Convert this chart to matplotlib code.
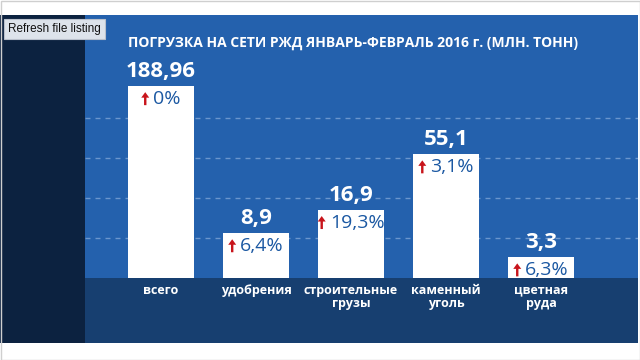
import numpy as np
import matplotlib.pyplot as plt
from matplotlib.patches import Rectangle, Polygon
from matplotlib.transforms import IdentityTransform

plt.rcParams['font.family'] = ['Open Sans', 'DejaVu Sans']

# данные
categories = ['всего', 'удобрения', 'строительные\nгрузы', 'каменный\nуголь', 'цветная\nруда']
values = [188.96, 8.9, 16.9, 55.1, 3.3]
value_labels = ['188,96', '8,9', '16,9', '55,1', '3,3']
growth = ['0%', '6,4%', '19,3%', '3,1%', '6,3%']
title = 'ПОГРУЗКА НА СЕТИ РЖД ЯНВАРЬ-ФЕВРАЛЬ 2016 г. (МЛН. ТОНН)'

W, H = 640, 360
BLUE = '#2461ad'
BAND = '#173f70'
NAVY = '#0c2240'
TXT_BLUE = '#1b58a2'
RED = '#c8141b'


def px(x, y, w, h):
    # пиксели (от верхнего левого угла) -> координаты фигуры
    return [x / W, 1 - (y + h) / H, w / W, h / H]


fig = plt.figure(figsize=(6.4, 3.6), dpi=100, facecolor='white')

# фоновые панели
for (x, y, w, h), c in [((0, 15, 85, 328), NAVY),
                        ((85, 15, 553, 263), BLUE),
                        ((85, 278, 553, 65), BAND)]:
    l, b, ww, hh = px(x, y, w, h)
    fig.patches.append(Rectangle((l, b), ww, hh, transform=fig.transFigure,
                                 facecolor=c, edgecolor='none', zorder=-1))
fig.patches.append(Rectangle((0.5 / W, 0.5 / H), 1 - 1 / W, 1 - 1 / H, transform=fig.transFigure,
                             facecolor='none', edgecolor='#cfcfcf', lw=1, zorder=6))

# сжатая (логарифмическая) шкала как в инфографике
C = 8.0
ax = fig.add_axes(px(85, 15, 553, 263), zorder=1)
ax.set_facecolor(BLUE)
ax.set_yscale('function', functions=(lambda v: np.log1p(np.clip(v, 0, None) / C),
                                     lambda u: C * np.expm1(u)))
ax.set_xlim(-0.8, 5.02)
ax.set_ylim(0, C * np.expm1(263 / 59.9))
for s in ax.spines.values():
    s.set_visible(False)
ax.tick_params(which='both', length=0, labelleft=False, labelbottom=False)

# пунктирная сетка
for g in [40, 80, 120, 160]:
    ax.plot([0, 1], [g / 263, g / 263], transform=ax.transAxes, color='#6b95cc',
            lw=1, dashes=(3.6, 3.6), zorder=1)

x = np.arange(len(values))
ax.bar(x, values, width=0.695, color='white', zorder=3)

pct_texts = []
for i, v in enumerate(values):
    ax.annotate(value_labels[i], (i, v), xytext=(0, 3), textcoords='offset points',
                ha='center', va='bottom', fontsize=16, fontweight='bold', color='white', zorder=4)
    t = ax.annotate(growth[i], (i, v), xytext=(4.3, -9.3), textcoords='offset points',
                    ha='center', va='center', fontsize=14, color=TXT_BLUE, zorder=4)
    pct_texts.append(t)
    ax.annotate(categories[i], (i, 0), xytext=(0, -4), textcoords='offset points',
                ha='center', va='top', fontsize=9, fontweight='bold', color='white',
                linespacing=1.0, annotation_clip=False)

# красные стрелки слева от процентов
fig.canvas.draw()
r = fig.canvas.get_renderer()
for t in pct_texts:
    bb = t.get_window_extent(r)
    cx = bb.x0 - 8
    cy = bb.y0 + bb.height * 0.52
    pts = [(cx, cy + 6.5), (cx - 4, cy + 1), (cx - 1.2, cy + 1), (cx - 1.2, cy - 6.5),
           (cx + 1.2, cy - 6.5), (cx + 1.2, cy + 1), (cx + 4, cy + 1)]
    fig.patches.append(Polygon(pts, closed=True, transform=IdentityTransform(),
                               facecolor=RED, edgecolor='none', zorder=5))

fig.text(128 / W, 1 - 43 / H, title, ha='left', va='center', color='white',
         fontweight='bold', fontsize=10)

fig.text(8 / W, 1 - 29 / H, 'Refresh file listing', ha='left', va='center', fontsize=8.5,
         family=['Liberation Sans', 'DejaVu Sans'], color='#111111',
         bbox=dict(boxstyle='square,pad=0.35', fc='#dde3eb', ec='#b9c0cc', lw=0.8))

fig.savefig('out.png', dpi=100, facecolor='white')
